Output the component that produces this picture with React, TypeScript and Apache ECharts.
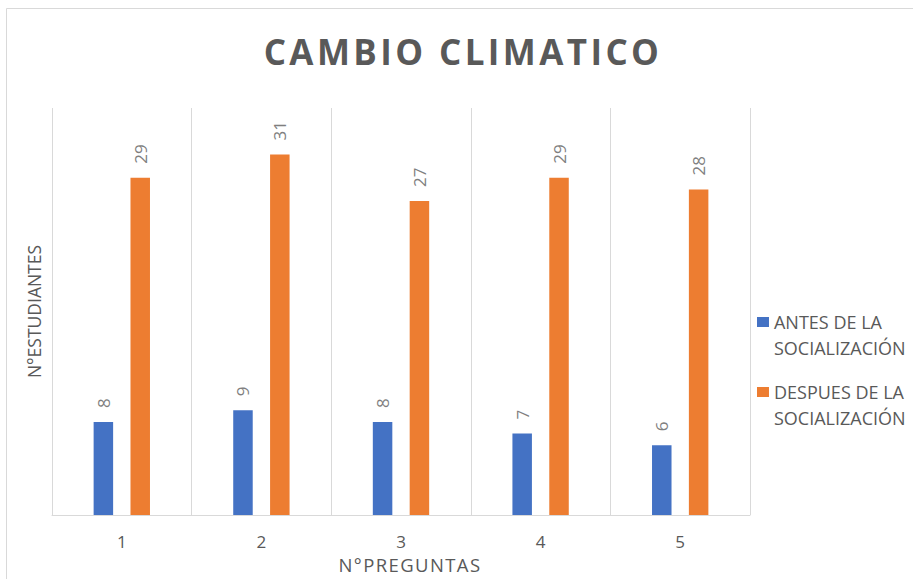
import React, { useEffect, useRef } from "react";
import * as echarts from "echarts";

const categories = ["1", "2", "3", "4", "5"];
const antes = [8, 9, 8, 7, 6];
const despues = [29, 31, 27, 29, 28];
const seriesNames = ["ANTES DE LA\nSOCIALIZACIÓN", "DESPUES DE LA\nSOCIALIZACIÓN"];

const FONT = "'Open Sans', sans-serif";
const LEGEND_ICON = "path://M0,0L12,0L12,10L0,10Z M0,36L0.05,36L0.05,36.05L0,36.05Z";

const css = `
#root svg text[style*="35px"], #root svg text[font-size="35"] { letter-spacing: 3.4px; }
#root svg text[style*="18.5px"], #root svg text[font-size="18.5"] { letter-spacing: 1.4px; }
`;

export default function App() {
  const ref = useRef<HTMLDivElement>(null);
  useEffect(() => {
    const chart = echarts.init(ref.current!, null, { renderer: "svg" });
    const label = {
      show: true,
      position: "top",
      rotate: 90,
      align: "left",
      verticalAlign: "middle",
      distance: 14,
      color: "#7f7f7f",
      fontSize: 17,
      fontFamily: FONT,
    };
    chart.setOption({
      animation: false,
      backgroundColor: "#ffffff",
      title: {
        text: "CAMBIO CLIMATICO",
        left: 458,
        textAlign: "center",
        top: 29,
        textStyle: { color: "#595959", fontSize: 35, fontWeight: "bold", fontFamily: FONT },
      },
      graphic: [
        {
          type: "rect",
          shape: { x: 6.5, y: 8.5, width: 1000, height: 1000 },
          style: { fill: "none", stroke: "#d9d9d9", lineWidth: 1 },
          silent: true,
        },
      ],
      legend: {
        orient: "vertical",
        left: 757,
        top: 309,
        padding: 0,
        itemGap: 18,
        itemWidth: 12,
        itemHeight: 36,
        icon: LEGEND_ICON,
        textStyle: { color: "#595959", fontSize: 18, lineHeight: 26, fontFamily: FONT },
      },
      grid: { left: 52, right: 163, top: 108, bottom: 62 },
      xAxis: {
        type: "category",
        data: categories,
        name: "N°PREGUNTAS",
        nameLocation: "middle",
        nameGap: 40,
        nameTextStyle: { color: "#595959", fontSize: 18.5, fontFamily: FONT, padding: [0, 0, 0, 18] },
        axisLine: { show: true, lineStyle: { color: "#d9d9d9", width: 1 } },
        axisTick: { show: false },
        axisLabel: { color: "#595959", fontSize: 17, fontFamily: FONT, margin: 18 },
        splitLine: { show: true, interval: 0, lineStyle: { color: "#d9d9d9", width: 1 } },
      },
      yAxis: {
        type: "value",
        min: 0,
        max: 35,
        name: "N°ESTUDIANTES",
        nameLocation: "middle",
        nameGap: 9,
        nameTextStyle: { color: "#595959", fontSize: 17.5, fontFamily: FONT },
        axisLine: { show: false },
        axisTick: { show: false },
        axisLabel: { show: false },
        splitLine: { show: false },
      },
      series: [
        {
          name: seriesNames[0],
          type: "bar",
          data: antes,
          barWidth: 19.5,
          barGap: "89%",
          itemStyle: { color: "#4472C4" },
          label,
        },
        {
          name: seriesNames[1],
          type: "bar",
          data: despues,
          barWidth: 19.5,
          barGap: "89%",
          itemStyle: { color: "#ED7D31" },
          label,
        },
      ],
    });
    return () => chart.dispose();
  }, []);
  return (
    <>
      <style>{css}</style>
      <div
        ref={ref}
        style={{ position: "absolute", left: 0, top: 0, width: 913, height: 579 }}
      />
    </>
  );
}
